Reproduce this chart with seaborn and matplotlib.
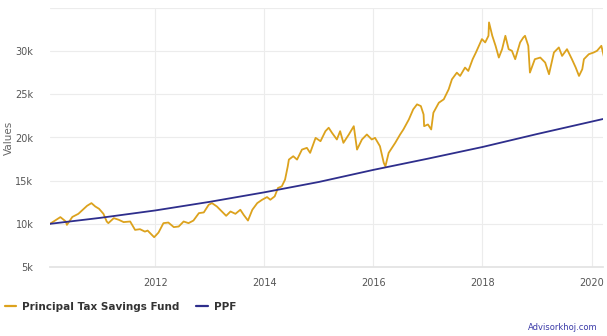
import numpy as np
import pandas as pd
import seaborn as sns
import matplotlib
matplotlib.use("Agg")
import matplotlib.pyplot as plt
from matplotlib.lines import Line2D

# Growth of 10,000 invested: fund NAV path vs PPF (decimal years on x)
fund_years = [
    2010.07, 2010.26, 2010.36, 2010.38, 2010.48, 2010.59, 2010.75, 2010.83, 2010.90, 2010.97,
    2011.05, 2011.11, 2011.14, 2011.24, 2011.33, 2011.42, 2011.54, 2011.63, 2011.72, 2011.81,
    2011.86, 2011.98, 2012.06, 2012.15, 2012.24, 2012.34, 2012.43, 2012.52, 2012.61, 2012.70,
    2012.80, 2012.89, 2012.98, 2013.04, 2013.13, 2013.22, 2013.30, 2013.38, 2013.47, 2013.56,
    2013.62, 2013.70, 2013.78, 2013.87, 2013.96, 2014.05, 2014.11, 2014.19, 2014.25, 2014.32,
    2014.38, 2014.43, 2014.45, 2014.53, 2014.60, 2014.69, 2014.78, 2014.84, 2014.94, 2015.03,
    2015.12, 2015.18, 2015.24, 2015.33, 2015.39, 2015.45, 2015.55, 2015.64, 2015.70, 2015.79,
    2015.88, 2015.97, 2016.03, 2016.12, 2016.19, 2016.22, 2016.28, 2016.40, 2016.49, 2016.55,
    2016.65, 2016.73, 2016.80, 2016.87, 2016.92, 2016.93, 2017.00, 2017.06, 2017.10, 2017.20,
    2017.29, 2017.38, 2017.44, 2017.53, 2017.59, 2017.68, 2017.74, 2017.82, 2017.88, 2017.99,
    2018.05, 2018.11, 2018.12, 2018.18, 2018.24, 2018.30, 2018.36, 2018.42, 2018.48, 2018.54,
    2018.60, 2018.69, 2018.75, 2018.78, 2018.84, 2018.87, 2018.96, 2019.06, 2019.15, 2019.22,
    2019.31, 2019.40, 2019.46, 2019.55, 2019.64, 2019.71, 2019.77, 2019.83, 2019.86, 2019.95,
    2020.04, 2020.10, 2020.18, 2020.23,
]
fund_values = [
    10000, 10780, 10270, 9880, 10800, 11160, 12090, 12400, 12010, 11740,
    11160, 10270, 10080, 10660, 10470, 10200, 10270, 9300, 9380, 9100,
    9220, 8450, 8990, 10080, 10150, 9620, 9690, 10270, 10080, 10380,
    11240, 11320, 12210, 12400, 12010, 11430, 10930, 11430, 11160, 11630,
    11050, 10380, 11630, 12400, 12790, 13100, 12790, 13180, 14150, 14340,
    15120, 16670, 17440, 17830, 17440, 18600, 18800, 18220, 19960, 19570,
    20730, 21130, 20550, 19770, 20730, 19380, 20350, 21310, 18600, 19770,
    20350, 19770, 19960, 18990, 17060, 16660, 18220, 19380, 20350, 20930,
    22090, 23260, 23840, 23640, 22670, 21310, 21510, 20930, 22870, 24030,
    24420, 25580, 26740, 27510, 27130, 28100, 27710, 29070, 29850, 31400,
    31010, 31780, 33330, 31780, 30620, 29260, 30230, 31780, 30230, 30040,
    29070, 31010, 31590, 31780, 30620, 27520, 29070, 29260, 28680, 27330,
    29850, 30430, 29450, 30230, 29070, 28100, 27130, 27910, 29070, 29650,
    29850, 30040, 30620, 29260,
]

ppf_years = [2010.07, 2011.0, 2012.0, 2013.0, 2014.0, 2015.0, 2016.0, 2017.0, 2018.0, 2019.0, 2020.23]
ppf_values = [10000, 10700, 11550, 12550, 13650, 14850, 16250, 17550, 18900, 20400, 22170]

series_names = ["Principal Tax Savings Fund", "PPF"]
series_colors = ["#dca21d", "#2e2e8c"]
year_ticks = [2012, 2014, 2016, 2018, 2020]
value_ticks = [5000, 10000, 15000, 20000, 25000, 30000, 35000]
value_labels = ["5k", "10k", "15k", "20k", "25k", "30k", ""]

df = pd.concat([
    pd.DataFrame({"year": fund_years, "value": fund_values, "series": series_names[0]}),
    pd.DataFrame({"year": ppf_years, "value": ppf_values, "series": series_names[1]}),
])

sns.set_theme(style="white")
plt.rcParams["font.family"] = ["DejaVu Sans"]

fig = plt.figure(figsize=(6.07, 3.36), dpi=100)
ax = fig.add_axes([50 / 607, 1 - 267 / 336, 553 / 607, 259 / 336])

sns.lineplot(
    data=df, x="year", y="value", hue="series",
    palette=dict(zip(series_names, series_colors)),
    linewidth=1.3, ax=ax, legend=False, estimator=None, sort=False,
)

ax.set_xlim(2010.07, 2020.21)
ax.set_ylim(5000, 35000)
ax.set_xticks(year_ticks)
ax.set_xticklabels([str(y) for y in year_ticks])
ax.set_yticks(value_ticks)
ax.set_yticklabels(value_labels)
ax.grid(True, color="#ececec", linewidth=0.8)
ax.set_axisbelow(True)
for side in ["top", "right", "left"]:
    ax.spines[side].set_visible(False)
ax.spines["bottom"].set_color("#e3e3e3")
ax.tick_params(axis="both", length=0, labelsize=7, colors="#555555")
ax.tick_params(axis="y", pad=12)
ax.tick_params(axis="x", pad=8)
ax.set_xlabel("")
ax.set_ylabel("Values", fontsize=7.5, color="#666666")
ax.yaxis.set_label_coords(-36 / 553, 0.5)

handles = [Line2D([0], [0], color=c, linewidth=1.6) for c in series_colors]
fig.legend(
    handles, series_names, loc="center left", bbox_to_anchor=(-0.008, 1 - 307 / 336),
    ncol=2, frameon=False, handlelength=1.1, handletextpad=0.6, columnspacing=1.6,
    prop={"size": 7.5, "weight": "bold"}, labelcolor="#333333",
)

fig.text(598 / 607, 1 - 327 / 336, "Advisorkhoj.com", ha="right", va="center",
         fontsize=6, color="#3a3aa8")

fig.savefig("out.png", dpi=100, facecolor="white")
